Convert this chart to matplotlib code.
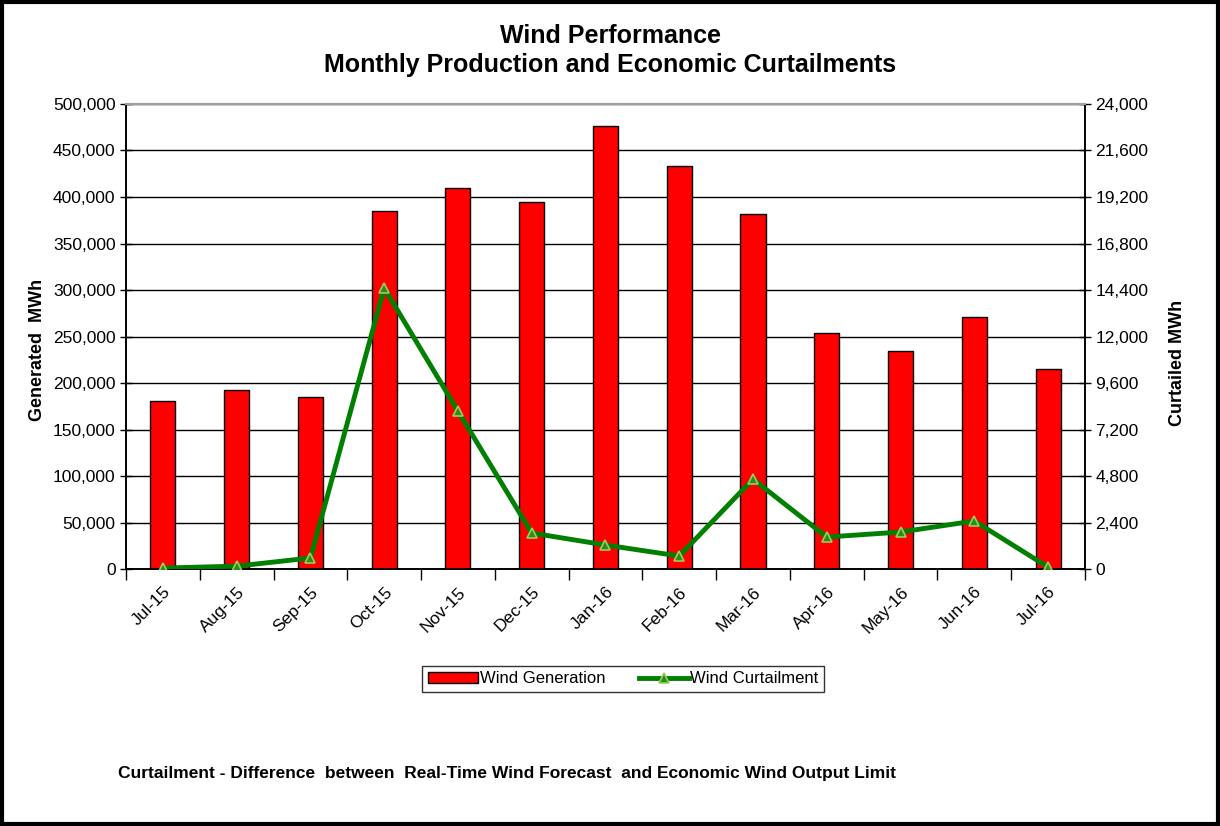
import numpy as np
import matplotlib
matplotlib.use("Agg")
import matplotlib.pyplot as plt
from matplotlib.ticker import FuncFormatter, FixedLocator
from matplotlib.patches import Rectangle

plt.rcParams["font.family"] = ["Liberation Sans", "DejaVu Sans"]

months = ["Jul-15", "Aug-15", "Sep-15", "Oct-15", "Nov-15", "Dec-15", "Jan-16",
          "Feb-16", "Mar-16", "Apr-16", "May-16", "Jun-16", "Jul-16"]
generation = [180500, 193000, 185000, 385000, 410000, 395000, 476000,
              433000, 382000, 254000, 234500, 271000, 215000]
curtailment = [50, 150, 570, 14500, 8150, 1860, 1240,
               670, 4640, 1650, 1910, 2480, 100]

fig = plt.figure(figsize=(12.2, 8.26), dpi=100)
ax = fig.add_axes([0.1033, 0.3111, 0.786, 0.563])
ax2 = ax.twinx()

x = np.arange(len(months))
ax.bar(x, generation, width=0.34, color="#ff0000", edgecolor="black",
       linewidth=1.0, zorder=3, label="Wind Generation")
ax2.plot(x, curtailment, color="#008000", linewidth=3.5, marker="^",
         markersize=7.5, markerfacecolor="#2e8b1e", markeredgecolor="#9acd5a",
         markeredgewidth=1.2, zorder=4, label="Wind Curtailment")

ax.set_xlim(-0.5, len(months) - 0.5)
ax.set_ylim(0, 500000)
ax2.set_ylim(0, 24000)
ax.set_yticks(np.arange(0, 500001, 50000))
ax2.set_yticks(np.arange(0, 24001, 2400))
ax.yaxis.set_major_formatter(FuncFormatter(lambda v, p: f"{int(v):,}"))
ax2.yaxis.set_major_formatter(FuncFormatter(lambda v, p: f"{int(v):,}"))

ax.grid(axis="y", color="black", linewidth=1.0, zorder=0)
ax.set_axisbelow(True)

# category labels at centers, tick marks between categories
ax.set_xticks(x)
ax.set_xticklabels(months, rotation=45, ha="right", rotation_mode="anchor",
                   fontsize=12.5)
ax.tick_params(axis="x", length=0, pad=11)
ax.xaxis.set_minor_locator(FixedLocator(np.arange(-0.5, len(months), 1.0)))
ax.tick_params(axis="x", which="minor", length=8, width=1, direction="out")

ax.tick_params(axis="y", labelsize=12.5, direction="inout", length=8, width=1)
ax2.tick_params(axis="y", labelsize=12.5, direction="inout", length=8, width=1)

for a in (ax, ax2):
    a.spines["top"].set_color("#a0a0a0")
    a.spines["top"].set_linewidth(1.5)
    a.spines["left"].set_linewidth(1.2)
    a.spines["right"].set_linewidth(1.2)
    a.spines["bottom"].set_linewidth(1.2)

ax.set_ylabel("Generated  MWh", fontsize=13, fontweight="bold",
              va="center", ha="center")
ax.yaxis.set_label_coords(-0.0918, 0.471)
ax2.set_ylabel("Curtailed MWh", fontsize=13, fontweight="bold",
               va="center", ha="center")
ax2.yaxis.set_label_coords(1.097, 0.443)

fig.text(0.5, 0.956, "Wind Performance", ha="center", va="center",
         fontsize=18, fontweight="bold")
fig.text(0.5, 0.921, "Monthly Production and Economic Curtailments",
         ha="center", va="center", fontsize=18, fontweight="bold")

h1, l1 = ax.get_legend_handles_labels()
h2, l2 = ax2.get_legend_handles_labels()
leg = fig.legend(h1 + h2, l1 + l2, loc="center", bbox_to_anchor=(0.511, 0.178),
                 ncol=2, fontsize=12, frameon=True, fancybox=False,
                 handlelength=3.0, handletextpad=0.1, columnspacing=2.0,
                 borderpad=0.35)
leg.get_frame().set_edgecolor("black")
leg.get_frame().set_linewidth(1.0)

fig.text(0.097, 0.064, "Curtailment - Difference  between  Real-Time Wind Forecast  and Economic Wind Output Limit",
         ha="left", va="center", fontsize=12.5, fontweight="bold")

fig.patches.append(Rectangle((0.002, 0.003), 0.996, 0.994, transform=fig.transFigure,
                             fill=False, edgecolor="black", linewidth=3))

fig.savefig("out.png", dpi=100)
